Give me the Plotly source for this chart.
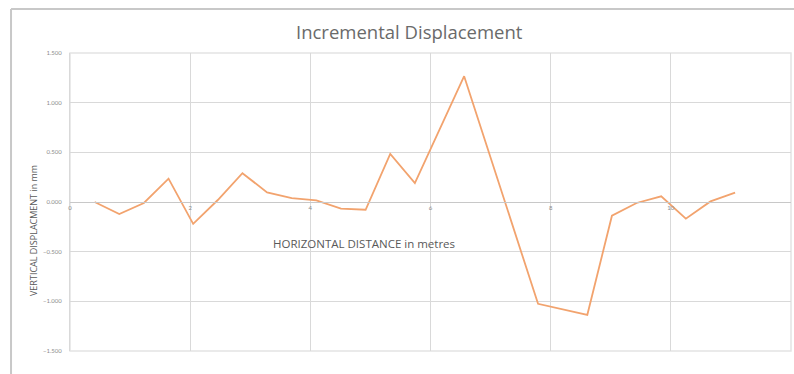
import plotly.graph_objects as go

# Horizontal distance along the survey line (m) and incremental vertical displacement (mm)
distance_m = [0.41, 0.82, 1.23, 1.64, 2.05, 2.46, 2.87, 3.28, 3.69, 4.10, 4.51, 4.92,
              5.33, 5.74, 6.56, 7.79, 8.61, 9.02, 9.43, 9.84, 10.25, 10.66, 11.07]
displacement_mm = [0.000, -0.121, -0.010, 0.235, -0.220, 0.020, 0.290, 0.097, 0.040, 0.016,
                   -0.067, -0.078, 0.484, 0.190, 1.266, -1.025, -1.136, -0.138, -0.010,
                   0.057, -0.168, 0.006, 0.094]

x_ticks = [0, 2, 4, 6, 8, 10, 12]
y_ticks = [-1.5, -1.0, -0.5, 0.0, 0.5, 1.0, 1.5]

FONT = "Lato"
TITLE_FONT = "Open Sans"
GRID = "#d9d9d9"
TEXT = "#595959"

fig = go.Figure()
fig.add_trace(go.Scatter(
    x=distance_m, y=displacement_mm, mode="lines",
    line=dict(color="#F2A36E", width=1.8),
    showlegend=False, hoverinfo="x+y",
))

fig.update_layout(
    width=794, height=374,
    margin=dict(l=70, r=3, t=53, b=23),
    paper_bgcolor="white", plot_bgcolor="white",
    font=dict(family=FONT, color=TEXT),
    xaxis=dict(
        range=[0, 12], tickvals=x_ticks, ticktext=[str(v) for v in x_ticks],
        showgrid=True, gridcolor=GRID, gridwidth=1, zeroline=False,
        anchor="free", position=0.5, showline=True, linecolor="#c8c8c8", linewidth=1,
        ticks="", tickfont=dict(size=6, color="#8c8c8c", family=FONT),
    ),
    yaxis=dict(
        range=[-1.5, 1.5], tickvals=y_ticks, tickformat=".3f",
        showgrid=True, gridcolor=GRID, gridwidth=1, zeroline=False,
        showline=True, linecolor=GRID, linewidth=1,
        ticks="", ticklabelstandoff=6,
        tickfont=dict(size=6, color="#8c8c8c", family=FONT),
    ),
    shapes=[
        # plot-area frame
        dict(type="rect", xref="paper", yref="paper", x0=0, x1=1, y0=0, y1=1,
             line=dict(color="#e4e4e4", width=1.5), layer="below"),
        # outer chart border (left and top edges)
        dict(type="line", xref="paper", yref="paper", x0=-0.0818, x1=-0.0818, y0=-0.1, y1=1.1477,
             line=dict(color="#c8c8c8", width=2)),
        dict(type="line", xref="paper", yref="paper", x0=-0.0818, x1=1.01, y0=1.1477, y1=1.1477,
             line=dict(color="#c8c8c8", width=2)),
    ],
    annotations=[
        dict(text="Incremental Displacement", xref="paper", yref="paper",
             x=(409 - 70) / 721, y=(351 - 31) / 298, showarrow=False,
             xanchor="center", yanchor="middle",
             font=dict(size=18.5, color="#6a6a6a", family=TITLE_FONT)),
        dict(text="HORIZONTAL DISTANCE in metres", xref="paper", yref="paper",
             x=(364 - 70) / 721, y=(351 - 243) / 298, showarrow=False,
             xanchor="center", yanchor="middle",
             font=dict(size=11.5, color=TEXT, family=TITLE_FONT)),
        dict(text="VERTICAL DISPLACMENT in mm", xref="paper", yref="paper",
             x=(33 - 70) / 721, y=(351 - 231) / 298, showarrow=False, textangle=-90,
             xanchor="center", yanchor="middle",
             font=dict(size=9, color=TEXT, family=TITLE_FONT)),
    ],
)

fig.write_html("out.html")
